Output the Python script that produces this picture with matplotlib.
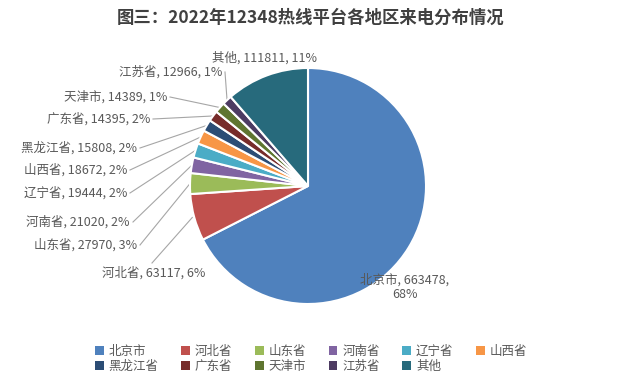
import numpy as np
import matplotlib.pyplot as plt

plt.rcParams['font.family'] = ['Noto Sans CJK SC', 'DejaVu Sans']

# data
regions = ['北京市', '河北省', '山东省', '河南省', '辽宁省', '山西省',
           '黑龙江省', '广东省', '天津市', '江苏省', '其他']
calls = [663478, 63117, 27970, 21020, 19444, 18672, 15808, 14395, 14389, 12966, 111811]
pct_labels = ['68%', '6%', '3%', '2%', '2%', '2%', '2%', '2%', '1%', '1%', '11%']
colors = ['#4F81BD', '#C0504D', '#9BBB59', '#8064A2', '#4BACC6', '#F79646',
          '#2C4D75', '#772C2A', '#5F7530', '#4D3B62', '#276A7C']

W, H = 622, 384
fig = plt.figure(figsize=(W / 100, H / 100), dpi=100)
ax = fig.add_axes([0, 0, 1, 1])

cx, cy, R = 308, H - 186, 118
wedges, _ = ax.pie(calls, colors=colors, startangle=90, counterclock=False,
                   center=(cx, cy), radius=R, frame=True,
                   wedgeprops=dict(edgecolor='white', linewidth=1.5))
ax.set_xlim(0, W)
ax.set_ylim(0, H)
ax.set_aspect('equal')
ax.axis('off')

txt_color = '#595959'
line_color = '#A6A6A6'
fs = 9

# label anchor (right end of text), in pixels from top
label_pos = {
    '江苏省': (222, 72), '天津市': (167, 97), '广东省': (150, 119),
    '黑龙江省': (137, 148), '山西省': (127, 170), '辽宁省': (127, 193),
    '河南省': (130, 222), '山东省': (137, 245),
}

for w, name, v, p in zip(wedges, regions, calls, pct_labels):
    text = f'{name}, {v}, {p}'
    mid = np.deg2rad((w.theta1 + w.theta2) / 2)
    ex, ey = cx + R * np.cos(mid), cy + R * np.sin(mid)
    if name in label_pos:
        lx, ly = label_pos[name]
        ly = H - ly
        ax.text(lx, ly, text, ha='right', va='center', fontsize=fs, color=txt_color)
        ax.plot([lx + 3, ex], [ly, ey], color=line_color, lw=0.8, zorder=0)
    elif name == '河北省':
        ax.text(154, H - 273, text, ha='center', va='center', fontsize=fs, color=txt_color)
        ax.plot([152, ex - 2], [H - 263, ey], color=line_color, lw=0.8, zorder=0)
    elif name == '其他':
        ax.text(265, H - 58, text, ha='center', va='center', fontsize=fs, color=txt_color)
    else:
        ax.text(405, H - 287, f'{name}, {v},\n{p}', ha='center', va='center',
                fontsize=fs, color=txt_color, linespacing=1.2)

fig.text(0.5, 1 - 18 / H, '图三：2022年12348热线平台各地区来电分布情况',
         ha='center', va='center', fontsize=12.5, fontweight='bold', color='#404040')

# legend filled row by row (2 rows x 6 columns)
order = [0, 6, 1, 7, 2, 8, 3, 9, 4, 10, 5]
leg = fig.legend([wedges[i] for i in order], [regions[i] for i in order],
                 loc='center', bbox_to_anchor=(0.5, 1 - 359 / H),
                 ncol=6, frameon=False, fontsize=fs, handlelength=0.7, handleheight=0.7,
                 handletextpad=0.4, columnspacing=1.8, labelspacing=0.15)
for t in leg.get_texts():
    t.set_color(txt_color)
for h in leg.legend_handles:
    h.set_edgecolor('none')

fig.savefig('out.png', dpi=100)
